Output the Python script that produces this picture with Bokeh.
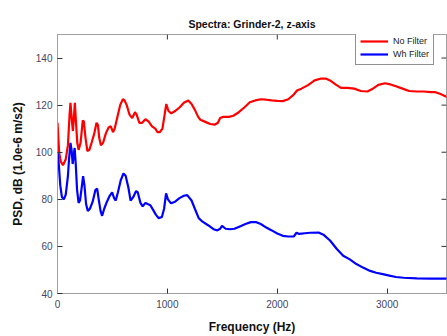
import math
from bokeh.plotting import figure
from bokeh.models import Range1d, Legend, LegendItem, FixedTicker
from bokeh.embed import file_html
from bokeh.resources import INLINE

# ---- data ----
freq_nofilter = [0, 15, 30, 50, 75, 95, 110, 118, 128, 140, 148, 158, 168, 180, 192, 210, 230, 240,
                 255, 272, 290, 310, 335, 355, 368, 380, 395, 415, 440, 465, 485, 505, 520, 545, 570,
                 595, 610, 630, 655, 680, 705, 720, 745, 770, 800, 830, 860, 890, 910, 930, 955, 975,
                 990, 1010, 1035, 1070, 1110, 1150, 1190, 1220, 1250, 1280, 1300, 1340, 1390, 1430,
                 1460, 1480, 1510, 1560, 1600, 1650, 1700, 1750, 1800, 1850, 1900, 1950, 2000, 2050,
                 2100, 2150, 2180, 2220, 2280, 2340, 2400, 2440, 2480, 2530, 2580, 2640, 2700, 2760,
                 2820, 2870, 2920, 2980, 3030, 3080, 3140, 3200, 3270, 3330, 3400, 3440, 3480, 3520, 3545]
psd_nofilter = [112.5, 100, 96, 94.5, 97, 103, 116, 121, 115, 109, 114, 121, 113, 104, 101, 104, 113.5, 113,
                106, 100.5, 101, 104, 108, 112.5, 111.5, 106, 103, 104, 108, 110.5, 111, 108.5, 110, 115, 120,
                122.5, 122, 120, 116, 114.5, 117, 116, 112.5, 112.5, 114, 113, 111, 110, 108.5, 108.5, 110, 116,
                120.5, 117.5, 116.5, 117.5, 119, 121, 122, 120.5, 118, 115, 113.8, 113, 112, 111.7,
                112.5, 114.5, 115, 115, 115.5, 117, 119, 121.2, 122, 122.5, 122.3, 122, 121.8, 121.7,
                122.5, 124.5, 126.2, 127, 128.5, 130.5, 131.3, 131.3, 130.5, 128.8, 127.3, 127.3, 127, 126,
                125.8, 127, 128.6, 129.3, 128.8, 128, 127, 126, 125.8, 125.8, 125.5, 125.5, 124.8, 124, 123.4]

freq_whfilter = [0, 10, 25, 40, 58, 75, 95, 105, 118, 128, 138, 148, 156, 166, 178, 192, 205, 220, 233, 245,
                 260, 276, 295, 320, 345, 361, 375, 392, 406, 425, 450, 475, 497, 515, 530, 550, 575, 600,
                 620, 645, 665, 690, 715, 730, 755, 775, 800, 820, 845, 870, 895, 920, 950, 970, 988, 1005,
                 1033, 1070, 1110, 1150, 1180, 1220, 1250, 1285, 1320, 1370, 1420, 1455, 1480, 1497, 1530,
                 1570, 1610, 1660, 1710, 1760, 1810, 1850, 1900, 1950, 2000, 2050, 2100, 2150, 2175, 2200,
                 2250, 2300, 2376, 2420, 2480, 2540, 2600, 2660, 2720, 2780, 2845, 2900, 2960, 3020, 3080,
                 3150, 3270, 3400, 3545]
psd_whfilter = [100, 96, 86, 81, 80, 82, 90, 97, 104, 101, 95, 99, 101.8, 95, 84, 78.5, 79.5, 85, 89.8, 86,
                78, 75, 76, 79, 84, 84.5, 80, 75, 73, 76, 79, 81.5, 83, 80.5, 79.5, 83, 88, 91,
                90, 85, 79.5, 81, 83.5, 83, 78.5, 77, 78.5, 78, 77.5, 75.5, 73.5, 72, 72.5, 76, 82.5, 80,
                78.3, 79, 80.5, 81.5, 81.8, 79.5, 76, 72, 70.5, 69, 67.3, 66.8, 67.5, 68.7, 67.5,
                67.3, 67.5, 68.5, 69.5, 70.3, 70.3, 69.5, 68, 66.8, 65.5, 64.5, 64.2, 64.2, 65.8, 65.3,
                65.6, 65.8, 65.9, 65, 62.5, 59, 56, 54.5, 52.5, 51, 49.6, 48.8, 48.2, 47.6, 47,
                46.7, 46.4, 46.3, 46.3]

title_text = "Spectra: Grinder-2, z-axis"
series_labels = ["No Filter", "Wh Filter"]
x_ticks = [0, 1000, 2000, 3000]
y_ticks = [40, 60, 80, 100, 120, 140]
x_lim = (0, 3540)
y_lim = (40, 150)

FONT = "Liberation Sans"
TICK_COLOR = "#454560"
BOX_COLOR = "#a0a0a0"

p = figure(width=447, height=336, output_backend="svg", toolbar_location=None,
           x_range=Range1d(*x_lim), y_range=Range1d(*y_lim), title=title_text,
           min_border_left=57, min_border_top=34, min_border_bottom=41, min_border_right=1)

p.title.text_font = FONT
p.title.text_font_size = "10.5px"
p.title.text_font_style = "bold"
p.title.align = "center"
p.title.text_color = "#111111"

p.grid.visible = False
p.outline_line_color = BOX_COLOR
p.background_fill_color = "white"
p.border_fill_color = "white"

r1 = p.line(freq_nofilter, psd_nofilter, line_color="#ff0000", line_width=2.2)
r2 = p.line(freq_whfilter, psd_whfilter, line_color="#0000ff", line_width=2.2)

for ax in [p.xaxis[0], p.yaxis[0]]:
    ax.axis_line_color = BOX_COLOR
    ax.major_tick_line_color = "#333333"
    ax.major_tick_in = 5
    ax.major_tick_out = 0
    ax.minor_tick_line_color = None
    ax.major_label_text_font = FONT
    ax.major_label_text_font_size = "10px"
    ax.major_label_text_color = TICK_COLOR
    ax.axis_label_text_font = FONT
    ax.axis_label_text_font_size = "12px"
    ax.axis_label_text_font_style = "bold"
    ax.axis_label_text_color = "#111111"

p.xaxis[0].ticker = FixedTicker(ticks=x_ticks)
p.yaxis[0].ticker = FixedTicker(ticks=y_ticks)
p.xaxis[0].axis_label = "Frequency (Hz)"
p.yaxis[0].axis_label = "PSD, dB (1.0e-6 m/s2)"
p.xaxis[0].major_label_standoff = 6
p.yaxis[0].major_label_standoff = 5
p.xaxis[0].axis_label_standoff = 9
p.yaxis[0].axis_label_standoff = 8

# tick marks on the top and right edges of the box (pointing inward)
p.ray(x=x_ticks, y=[y_lim[1]] * len(x_ticks), length=5, length_units="screen",
      angle=-math.pi / 2, line_color="#333333", line_width=1)
p.ray(x=[x_lim[1]] * len(y_ticks), y=y_ticks, length=5, length_units="screen",
      angle=math.pi, line_color="#333333", line_width=1)

legend = Legend(items=[LegendItem(label=series_labels[0], renderers=[r1]),
                       LegendItem(label=series_labels[1], renderers=[r2])],
                location=(298, 228))
legend.margin = 0
legend.padding = 4
legend.spacing = 1
legend.label_text_font = FONT
legend.label_text_font_size = "9px"
legend.label_text_color = "#222222"
legend.label_height = 12
legend.label_width = 10
legend.glyph_height = 12
legend.glyph_width = 28
legend.label_standoff = 5
legend.border_line_color = "#222222"
legend.border_line_width = 1
legend.background_fill_color = "white"
legend.background_fill_alpha = 1
p.add_layout(legend, "center")

open("out.html", "w").write(file_html(p, INLINE))
